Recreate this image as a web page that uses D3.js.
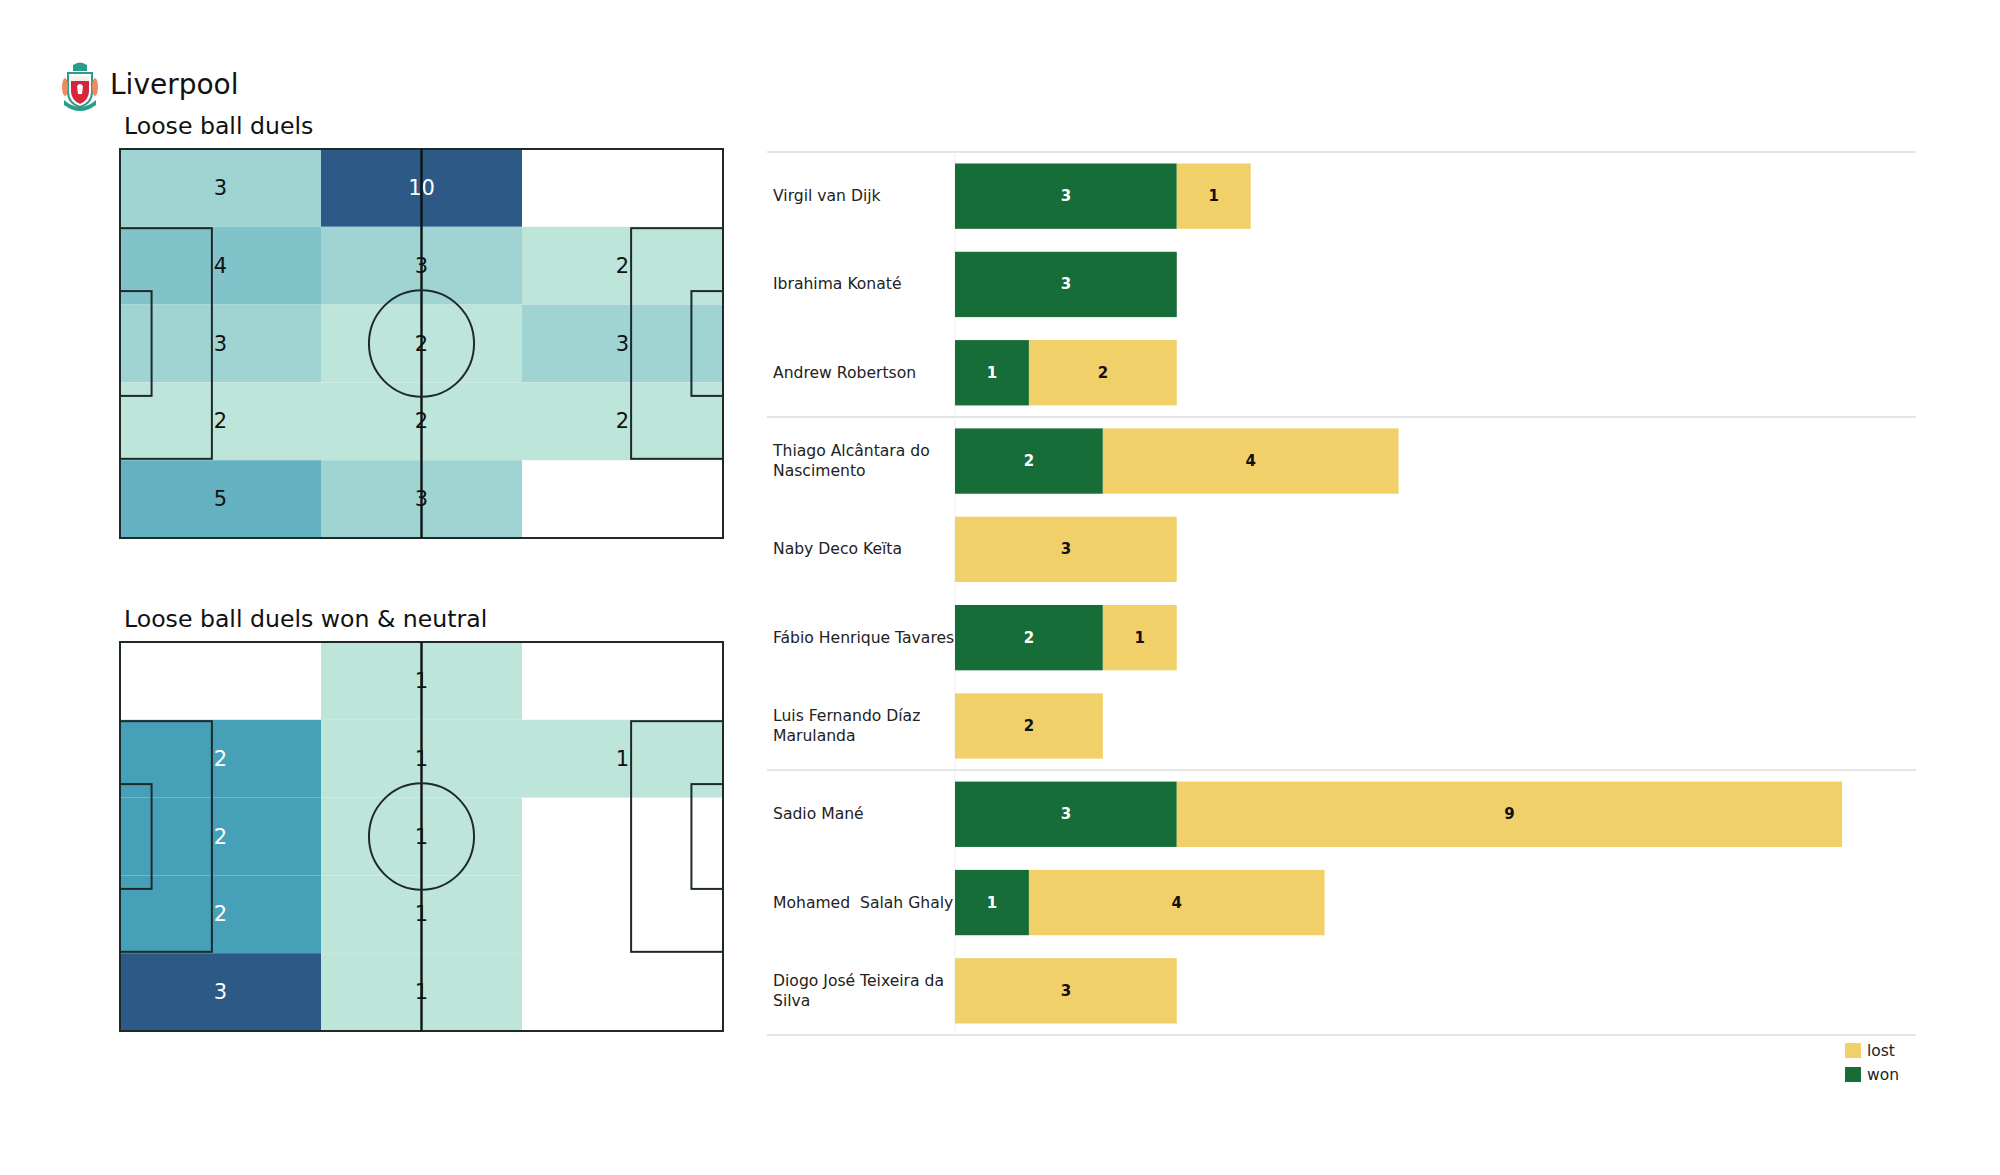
<!DOCTYPE html>
<html>
<head>
<meta charset="utf-8">
<script src="https://cdn.jsdelivr.net/npm/d3@7"></script>
<style>
  body { margin: 0; background: #fff; }
  svg { display: block; font-family: "DejaVu Sans", sans-serif; }
</style>
</head>
<body>
<svg id="chart" width="2000" height="1175"></svg>
<script>
// heatmap zones, rows top -> bottom, columns left -> right
const zoneAll = [
  [3, 10, 0],
  [4, 3, 2],
  [3, 2, 3],
  [2, 2, 2],
  [5, 3, 0]
];
const zoneWonNeutral = [
  [0, 1, 0],
  [2, 1, 1],
  [2, 1, 0],
  [2, 1, 0],
  [3, 1, 0]
];
const pitchTitles = ["Loose ball duels", "Loose ball duels won & neutral"];

// players per duel outcome
const players = [
  "Virgil van Dijk", "Ibrahima Konaté", "Andrew Robertson",
  "Thiago Alcântara do Nascimento", "Naby Deco Keïta", "Fábio Henrique Tavares",
  "Luis Fernando Díaz Marulanda",
  "Sadio Mané", "Mohamed  Salah Ghaly", "Diogo José Teixeira da Silva"
];
const won  = [3, 3, 1, 2, 0, 2, 0, 3, 1, 0];
const lost = [1, 0, 2, 4, 3, 1, 2, 9, 4, 3];
const groupSizes = [3, 4, 3];
const series = ["lost", "won"];

const svg = d3.select("#chart");
const WON = "#176d38", LOST = "#f1d069";

// ---- header ----
const logo = svg.append("g").attr("transform", "translate(62,62)");
logo.append("path").attr("d", "M11,9 L11,3 Q18,-2 25,3 L25,9 Z").attr("fill", "#2a9d8a");
logo.append("path").attr("d", "M6,11 L30,11 L30,30 Q30,41 18,45 Q6,41 6,30 Z")
  .attr("fill", "#fff").attr("stroke", "#2a9d8a").attr("stroke-width", 2);
logo.append("path").attr("d", "M9,14 L27,14 L27,29 Q27,38 18,42 Q9,38 9,29 Z").attr("fill", "#d6273a");
logo.append("rect").attr("x", 9).attr("y", 14).attr("width", 18).attr("height", 5).attr("fill", "#f3f3f3");
logo.append("path").attr("d", "M15,24 Q18,20 21,24 L20,32 L16,32 Z").attr("fill", "#fff");
logo.append("ellipse").attr("cx", 3).attr("cy", 25).attr("rx", 3).attr("ry", 9).attr("fill", "#f08a5d");
logo.append("ellipse").attr("cx", 33).attr("cy", 25).attr("rx", 3).attr("ry", 9).attr("fill", "#f08a5d");
logo.append("path").attr("d", "M2,38 Q18,52 34,38 L34,43 Q18,55 2,43 Z").attr("fill", "#2a9d8a");

svg.append("text").attr("x", 110).attr("y", 94)
  .attr("font-size", 28).attr("fill", "#111").text("Liverpool");

// ---- pitches ----
const PW = 603, PH = 389;
const px = d3.scaleLinear().domain([0, 105]).range([0, PW]);
const py = d3.scaleLinear().domain([0, 68]).range([0, PH]);
const col = d3.scaleBand().domain([0, 1, 2]).range([0, PW]);
const row = d3.scaleBand().domain([0, 1, 2, 3, 4]).range([0, PH]);

function drawPitch(grid, title, left, top) {
  svg.append("text").attr("x", left + 4).attr("y", top - 15)
    .attr("font-size", 23.6).attr("fill", "#111").text(title);

  const g = svg.append("g").attr("transform", `translate(${left},${top})`);
  const vals = grid.flat().filter(v => v > 0);
  const lo = d3.min(vals), hi = d3.max(vals);
  const color = d3.scaleLinear().domain([lo, (lo + hi) / 2, hi])
    .range(["#bde5da", "#46a0b8", "#2c5985"]);
  const t = d3.scaleLinear().domain([lo, hi]);

  const cells = [];
  grid.forEach((r, i) => r.forEach((v, j) => cells.push({ i, j, v })));

  g.selectAll("rect.cell").data(cells.filter(d => d.v > 0)).join("rect")
    .attr("class", "cell")
    .attr("x", d => col(d.j)).attr("y", d => row(d.i))
    .attr("width", col.bandwidth()).attr("height", row.bandwidth())
    .attr("fill", d => color(d.v));

  g.selectAll("text.val").data(cells.filter(d => d.v > 0)).join("text")
    .attr("class", "val")
    .attr("x", d => col(d.j) + col.bandwidth() / 2)
    .attr("y", d => row(d.i) + row.bandwidth() / 2)
    .attr("text-anchor", "middle").attr("dominant-baseline", "central")
    .attr("font-size", 21)
    .attr("fill", d => t(d.v) >= 0.5 ? "#fff" : "#111")
    .text(d => d.v);

  const line = { fill: "none", stroke: "#1e2a2a", "stroke-width": 2 };
  const add = (sel) => { Object.entries(line).forEach(([k, v]) => sel.attr(k, v)); return sel; };

  add(g.append("rect").attr("x", 0).attr("y", 0).attr("width", PW).attr("height", PH));
  add(g.append("line").attr("x1", px(52.5)).attr("x2", px(52.5)).attr("y1", 0).attr("y2", PH))
    .attr("stroke", "#0d1414").attr("stroke-width", 2.4);
  add(g.append("ellipse").attr("cx", px(52.5)).attr("cy", py(34))
    .attr("rx", px(9.15)).attr("ry", py(9.3)));
  // boxes at both ends
  [[0, 1], [105, -1]].forEach(([x0, dir]) => {
    const bx = dir > 0 ? x0 : x0 - 16;
    add(g.append("rect").attr("x", px(bx)).attr("y", py(34 - 20.16))
      .attr("width", px(16)).attr("height", py(40.32)));
    const sx = dir > 0 ? x0 : x0 - 5.5;
    add(g.append("rect").attr("x", px(sx)).attr("y", py(34 - 9.16))
      .attr("width", px(5.5)).attr("height", py(18.32)));
  });
}

drawPitch(zoneAll, pitchTitles[0], 120, 149);
drawPitch(zoneWonNeutral, pitchTitles[1], 120, 642);

// ---- stacked bars ----
const x = d3.scaleLinear().domain([0, 13]).range([955, 1916]);
const y = d3.scaleBand().domain(players).range([152, 1035])
  .paddingInner(0.26).paddingOuter(0.13);

const rows = players.map((p, i) => ({ player: p, won: won[i], lost: lost[i] }));
const stack = d3.stack().keys(["won", "lost"])(rows);
const fills = { won: WON, lost: LOST };

// separators
const step = y.step();
let acc = 0;
const bounds = [0];
groupSizes.forEach(n => { acc += n; bounds.push(acc); });
svg.selectAll("line.sep").data(bounds).join("line")
  .attr("x1", 767).attr("x2", 1916)
  .attr("y1", d => 152 + d * step).attr("y2", d => 152 + d * step)
  .attr("stroke", "#dcdcdc").attr("stroke-width", 1.5);
svg.append("line").attr("x1", x(0)).attr("x2", x(0)).attr("y1", 152).attr("y2", 1035)
  .attr("stroke", "#efefef").attr("stroke-width", 1);

const layer = svg.selectAll("g.layer").data(stack).join("g").attr("class", "layer")
  .attr("fill", d => fills[d.key]);
layer.selectAll("rect").data(d => d.filter(s => s[1] > s[0])).join("rect")
  .attr("x", d => x(d[0])).attr("width", d => x(d[1]) - x(d[0]))
  .attr("y", d => y(d.data.player)).attr("height", y.bandwidth());

stack.forEach(s => {
  svg.append("g").selectAll("text").data(s.filter(d => d[1] > d[0])).join("text")
    .attr("x", d => (x(d[0]) + x(d[1])) / 2)
    .attr("y", d => y(d.data.player) + y.bandwidth() / 2)
    .attr("text-anchor", "middle").attr("dominant-baseline", "central")
    .attr("font-size", 15).attr("font-weight", "bold")
    .attr("fill", s.key === "won" ? "#fff" : "#111")
    .text(d => d[1] - d[0]);
});

// wrap names like textwrap(width=22)
function wrap(str, width) {
  const words = str.split(" ");
  const lines = [];
  let cur = "";
  words.forEach(w => {
    const next = cur === "" ? w : cur + " " + w;
    if (next.length > width && cur !== "") { lines.push(cur); cur = w; }
    else cur = next;
  });
  lines.push(cur);
  return lines;
}

players.forEach(p => {
  const lines = wrap(p, 22);
  const cy = y(p) + y.bandwidth() / 2;
  const lh = 19.5;
  const txt = svg.append("text").attr("x", 773)
    .attr("font-size", 15.6).attr("fill", "#222").attr("xml:space", "preserve")
    .style("white-space", "pre");
  lines.forEach((l, k) => {
    txt.append("tspan").attr("x", 773)
      .attr("y", cy + (k - (lines.length - 1) / 2) * lh)
      .attr("dominant-baseline", "central").text(l);
  });
});

// legend
const leg = svg.append("g").attr("transform", "translate(1845,1043)");
series.forEach((k, i) => {
  leg.append("rect").attr("x", 0).attr("y", i * 24).attr("width", 16).attr("height", 15)
    .attr("fill", fills[k]);
  leg.append("text").attr("x", 22).attr("y", i * 24 + 8)
    .attr("dominant-baseline", "central").attr("font-size", 15.5).attr("fill", "#222").text(k);
});
</script>
</body>
</html>
